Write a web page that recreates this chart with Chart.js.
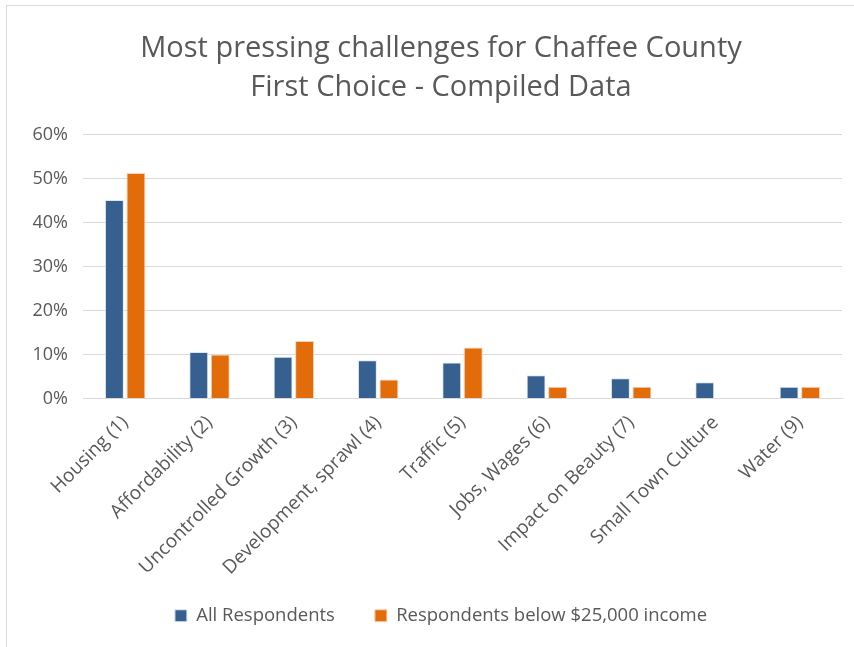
<!DOCTYPE html>
<html lang="en">
<head>
    <meta charset="UTF-8">
    <title>Most pressing challenges for Chaffee County</title>
    <script src="https://cdn.jsdelivr.net/npm/chart.js"></script>
    <style>
        body {
            margin: 0;
            background-color: #ffffff;
            overflow: hidden;
        }
        #frame {
            position: absolute;
            left: 6px;
            top: 5px;
            width: 880px;
            height: 660px;
            border-left: 1px solid #d9d9d9;
            border-top: 1px solid #d9d9d9;
        }
        #wrap {
            position: absolute;
            left: 0;
            top: 0;
            width: 882px;
            height: 647px;
        }
    </style>
</head>
<body>

<div id="frame"></div>
<div id="wrap"><canvas id="chart"></canvas></div>

<script type="text/javascript">
    const categories = ["Housing (1)", "Affordability (2)", "Uncontrolled Growth (3)", "Development, sprawl (4)",
        "Traffic (5)", "Jobs, Wages (6)", "Impact on Beauty (7)", "Small Town Culture", "Water (9)"];
    const allRespondents = [45.2, 10.6, 9.5, 8.7, 8.2, 5.3, 4.6, 3.7, 2.7];
    const lowIncome = [51.3, 10.0, 13.1, 4.3, 11.6, 2.7, 2.7, 0, 2.7];
    const seriesNames = ["All Respondents", "Respondents below $25,000 income"];
    const titleLines = ["Most pressing challenges for Chaffee County", "First Choice - Compiled Data"];

    const grey = "#595959";
    const fontName = "'Open Sans', sans-serif";

    // the chart box runs a little past the right edge of the window, like the original.
    // title and legend are centred on the whole box, and the category labels
    // may hang below the x axis box without being clipped
    const widenBoxes = {
        id: 'widenBoxes',
        afterLayout(chart) {
            chart.titleBlock.left = 0;
            chart.titleBlock.right = chart.width;
            chart.legend.left = 0;
            chart.legend.right = chart.width;
            chart.scales.x.bottom = chart.height;
        }
    };

    const ctx = document.getElementById("chart").getContext("2d");

    new Chart(ctx, {
        type: 'bar',
        data: {
            labels: categories,
            datasets: [{
                label: seriesNames[0],
                data: allRespondents,
                backgroundColor: '#36608f',
                borderColor: '#dfe6ef',
                borderWidth: 1,
                barPercentage: 0.88,
                categoryPercentage: 0.51
            }, {
                label: seriesNames[1],
                data: lowIncome,
                backgroundColor: '#e36c0a',
                borderColor: '#f6d2b6',
                borderWidth: 1,
                barPercentage: 0.88,
                categoryPercentage: 0.51
            }]
        },
        options: {
            responsive: true,
            maintainAspectRatio: false,
            animation: false,
            layout: {
                padding: { left: 0, right: 40, top: 0, bottom: 12 }
            },
            plugins: {
                title: {
                    display: true,
                    text: titleLines,
                    color: grey,
                    font: { family: fontName, size: 29, weight: 'normal', lineHeight: 1.36 },
                    padding: { top: 29, bottom: 27 }
                },
                legend: {
                    position: 'bottom',
                    labels: {
                        color: grey,
                        font: { family: fontName, size: 18.5 },
                        boxWidth: 12,
                        boxHeight: 12,
                        padding: 40
                    }
                },
                tooltip: { enabled: false }
            },
            scales: {
                x: {
                    grid: { display: false, drawTicks: false },
                    border: { color: '#d9d9d9', width: 1 },
                    ticks: {
                        color: grey,
                        font: { family: fontName, size: 19 },
                        maxRotation: 45,
                        minRotation: 45,
                        autoSkip: false,
                        padding: 13
                    },
                    afterFit: function (scale) {
                        scale.height = 168;
                    }
                },
                y: {
                    min: 0,
                    max: 60,
                    grid: { color: '#d9d9d9', drawTicks: false },
                    border: { display: false },
                    ticks: {
                        stepSize: 10,
                        color: grey,
                        font: { family: fontName, size: 18 },
                        padding: 15,
                        callback: function (value) { return value + '%'; }
                    },
                    afterFit: function (scale) {
                        scale.width = 83;
                    }
                }
            }
        },
        plugins: [widenBoxes]
    });
</script>

</body>
</html>
